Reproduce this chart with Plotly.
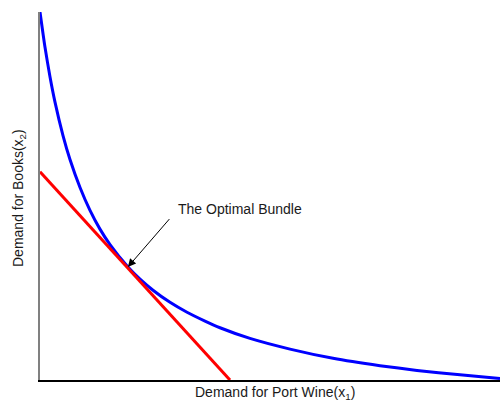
import plotly.graph_objects as go

# Indifference curve (blue)
curve_x = [0, 0.109, 0.217, 0.326, 0.50, 0.652, 0.870, 1.087, 1.304, 1.522, 1.913, 2.174,
           2.457, 2.826, 3.196, 3.587, 3.913, 4.565, 5.435, 6.370, 7.391, 8.196, 9.130, 10.0]
curve_y = [10.0, 9.04, 8.24, 7.55, 6.64, 5.99, 5.23, 4.61, 4.10, 3.68, 3.07, 2.74,
           2.44, 2.11, 1.84, 1.60, 1.42, 1.13, 0.84, 0.59, 0.39, 0.26, 0.14, 0.04]

# Budget line (red)
budget_x = [0, 4.13]
budget_y = [5.66, 0.0]

# Optimal bundle (tangency)
opt_x = [1.91]
opt_y = [3.07]
opt_label = ["The Optimal Bundle"]

x_title = "Demand for Port Wine(x<sub>1</sub>)"
y_title = "Demand for Books(x<sub>2</sub>)"

fig = go.Figure()
fig.add_trace(go.Scatter(x=curve_x, y=curve_y, mode="lines",
                         line=dict(color="#0000ff", width=3, shape="spline", smoothing=0.6),
                         showlegend=False, hoverinfo="skip"))
fig.add_trace(go.Scatter(x=budget_x, y=budget_y, mode="lines",
                         line=dict(color="#ff0000", width=3),
                         showlegend=False, hoverinfo="skip"))

font = dict(family="Liberation Sans, Arial, sans-serif", size=14, color="#1a1a1a")

# arrow
fig.add_annotation(x=opt_x[0], y=opt_y[0], xref="x", yref="y", text=" ",
                   showarrow=True, arrowhead=2, arrowsize=1.6, arrowwidth=1,
                   arrowcolor="#000000", ax=45, ay=-52, standoff=0, font=font)
# label
fig.add_annotation(x=opt_x[0], y=opt_y[0], xref="x", yref="y", text=opt_label[0],
                   showarrow=False, xanchor="left", yanchor="middle",
                   xshift=48, yshift=58, font=font)

fig.add_annotation(x=0.5, y=0, xref="paper", yref="paper", text=x_title,
                   showarrow=False, xanchor="center", yanchor="middle",
                   yshift=-13, xshift=5, font=font)
fig.add_annotation(x=0, y=0.5, xref="paper", yref="paper", text=y_title,
                   showarrow=False, xanchor="center", yanchor="middle",
                   xshift=-21, yshift=-2, textangle=-90, font=font)

fig.update_xaxes(range=[0, 10], showgrid=False, zeroline=False, showticklabels=False,
                 ticks="", showline=True, linecolor="#000000", linewidth=2)
fig.update_yaxes(range=[0, 10], showgrid=False, zeroline=False, showticklabels=False,
                 ticks="", showline=True, linecolor="#808080", linewidth=2)

fig.update_layout(width=500, height=401, margin=dict(l=40, r=0, t=12, b=21),
                  plot_bgcolor="white", paper_bgcolor="white", showlegend=False)

fig.write_html("out.html", config={"displayModeBar": False},
               post_script="document.body.style.margin='0';document.body.style.overflow='hidden';")
